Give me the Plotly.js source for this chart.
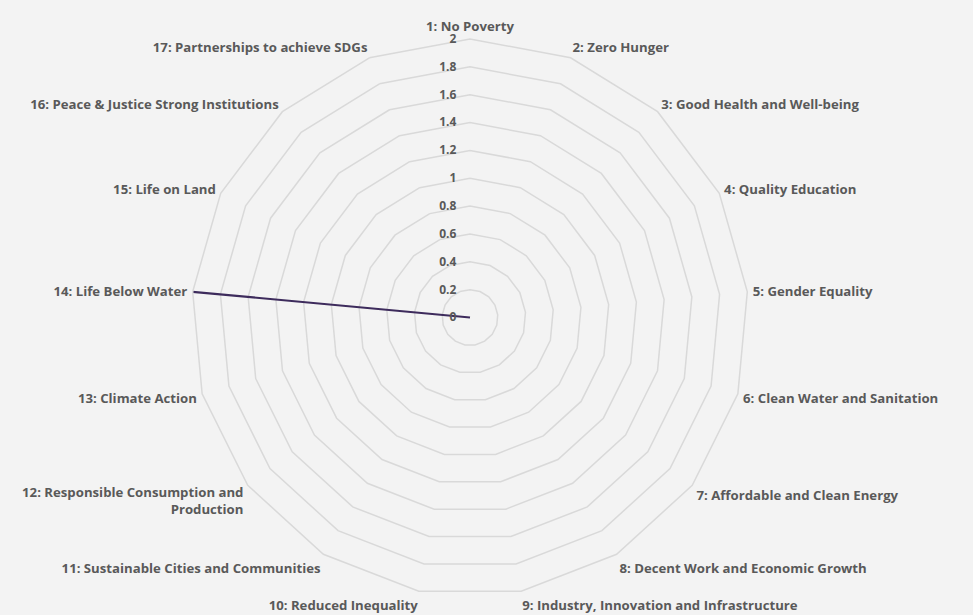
<!DOCTYPE html>
<html><head><meta charset="utf-8">
<script src="https://cdn.plot.ly/plotly-3.0.1.min.js"></script>
<style>html,body{margin:0;padding:0;background:#f3f3f3;}#chart{width:973px;height:615px;}</style>
</head><body><div id="chart"></div>
<script>
const categories = [
 "1: No Poverty","2: Zero Hunger","3: Good Health and Well-being","4: Quality Education",
 "5: Gender Equality","6: Clean Water and Sanitation","7: Affordable and Clean Energy",
 "8: Decent Work and Economic Growth","9: Industry, Innovation and Infrastructure",
 "10: Reduced Inequality","11: Sustainable Cities and Communities",
 "12: Responsible Consumption and<br>Production","13: Climate Action","14: Life Below Water",
 "15: Life on Land","16: Peace & Justice Strong Institutions","17: Partnerships to achieve SDGs"];
const values = [0,0,0,0,0,0,0,0,0,0,0,0,0,2,0,0,0];
const tickVals = [0,0.2,0.4,0.6,0.8,1,1.2,1.4,1.6,1.8,2];
const tickText = ["0","0.2","0.4","0.6","0.8","1","1.2","1.4","1.6","1.8","2"];

const trace = {
  type:'scatterpolar', mode:'lines',
  r: values.concat([values[0]]), theta: categories.concat([categories[0]]),
  line:{color:'#3d2b5c', width:2.2}, hoverinfo:'skip', showlegend:false
};
const angFont = {family:'"Open Sans", sans-serif', size:13.2, color:'#595959', weight:'bold'};
const radFont = {family:'"Open Sans", sans-serif', size:12, color:'#595959', weight:'bold'};
const layout = {
  width:973, height:615,
  paper_bgcolor:'#f3f3f3', plot_bgcolor:'#f3f3f3',
  margin:{l:0, r:33, t:39, b:19},
  font:{family:'"Open Sans", sans-serif', color:'#595959', size:12},
  polar:{
    bgcolor:'#f3f3f3',
    gridshape:'linear',
    angularaxis:{
      type:'category', categoryarray:categories, rotation:90, direction:'clockwise',
      showgrid:false, showline:true, linecolor:'#d9d9d9', linewidth:1.5,
      ticks:'outside', ticklen:2, tickcolor:'rgba(0,0,0,0)', tickfont:angFont
    },
    radialaxis:{
      range:[0,2], angle:90, tickangle:90, side:'counterclockwise',
      tickvals:tickVals, ticktext:tickText,
      showline:false, ticks:'outside', ticklen:9, tickcolor:'rgba(0,0,0,0)',
      gridcolor:'#d9d9d9', gridwidth:1.5,
      tickfont:radFont
    }
  }
};
Plotly.newPlot('chart',[trace],layout,{displayModeBar:false, staticPlot:true});
</script></body></html>
